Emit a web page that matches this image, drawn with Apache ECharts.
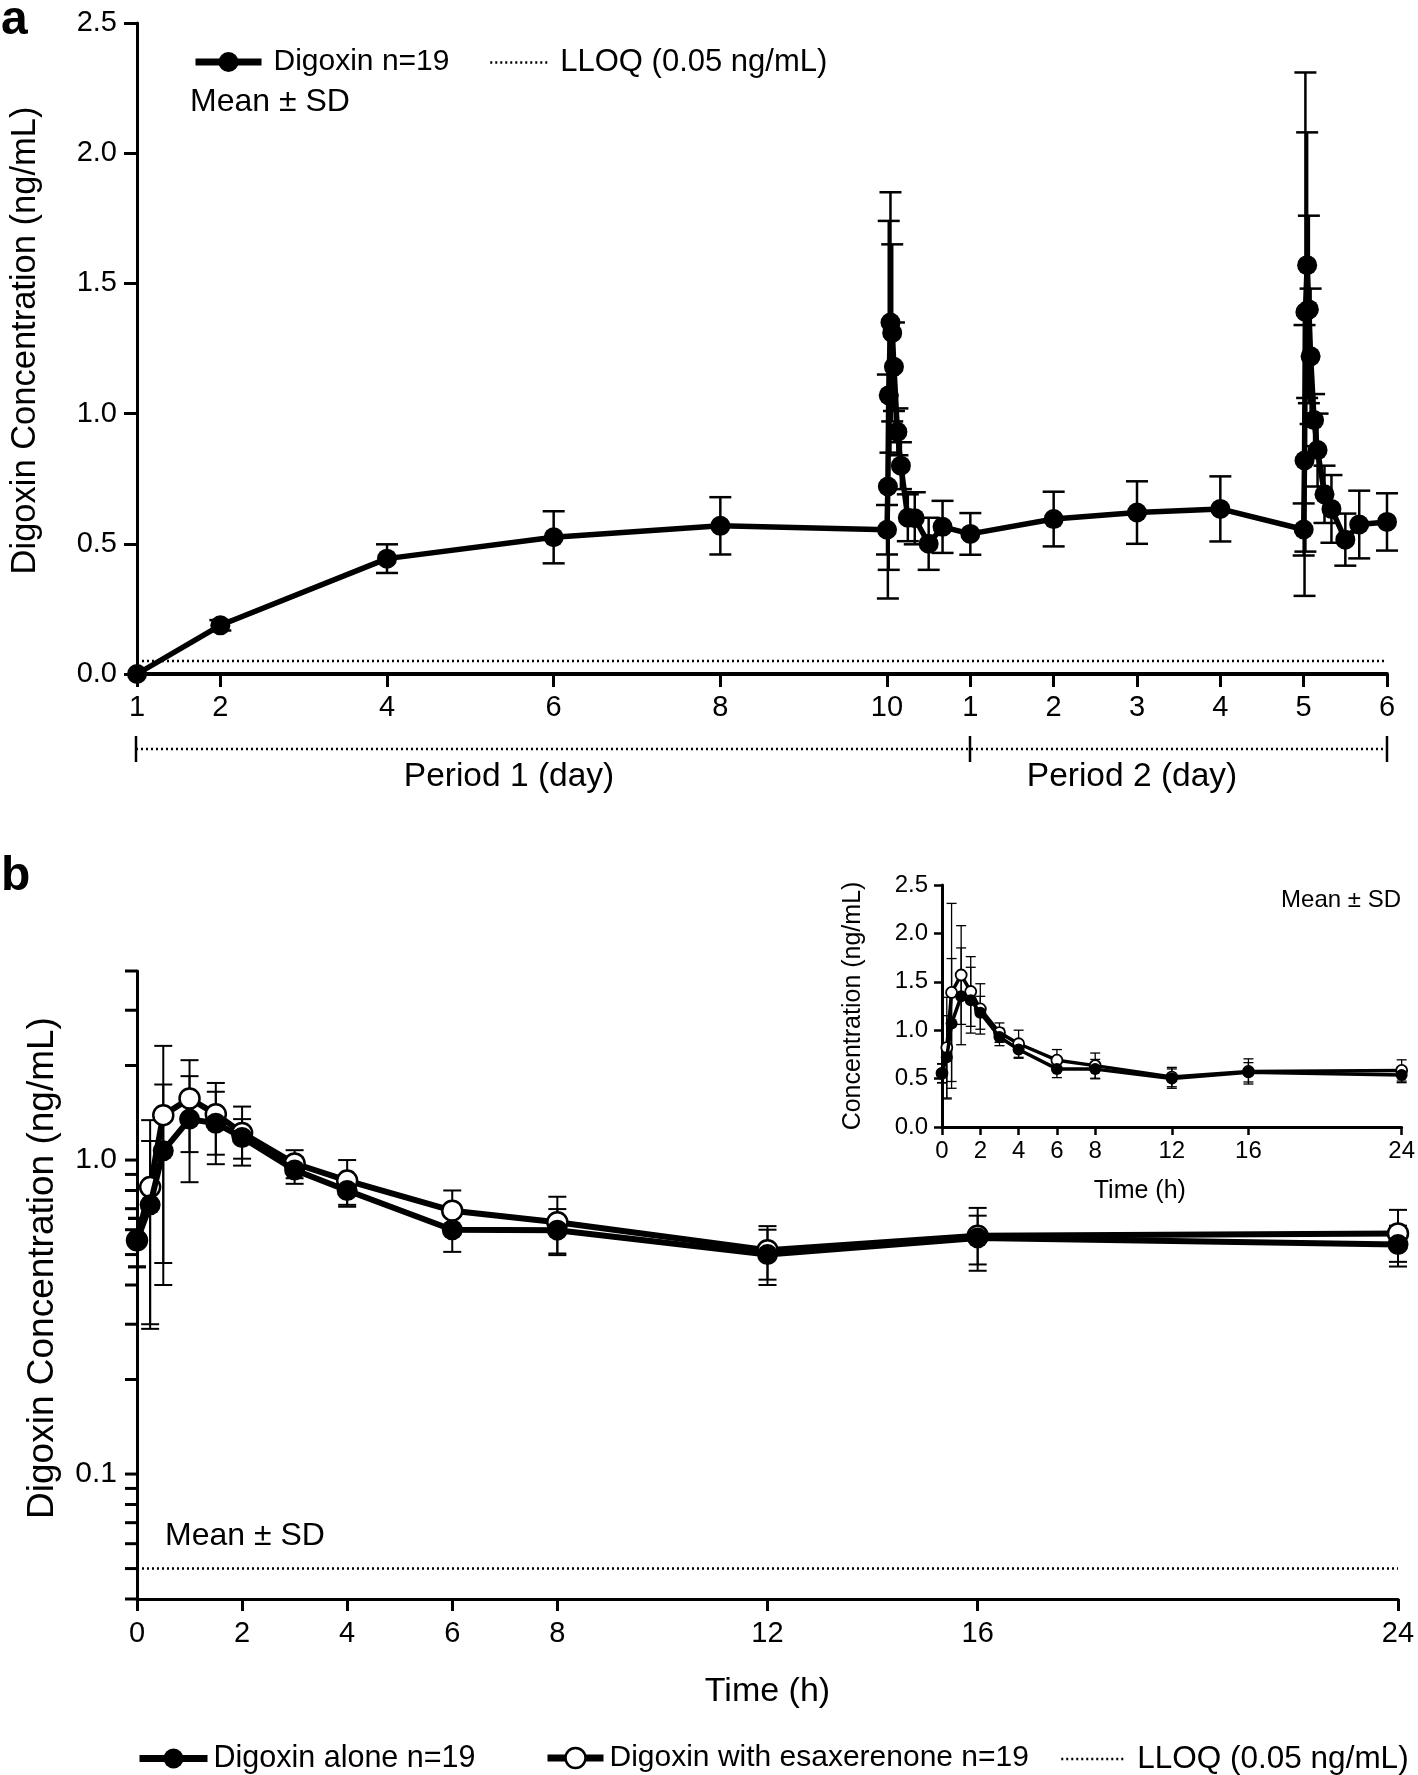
<!DOCTYPE html>
<html><head><meta charset="utf-8">
<script src="https://cdn.jsdelivr.net/npm/echarts@6/dist/echarts.min.js"></script>
<style>html,body{margin:0;padding:0;background:#fff}#chart{width:1418px;height:1775px}</style>
</head><body><div id="chart"></div>
<script>
// ---------------- DATA ----------------
// 24-h profiles (panel b and inset), hours after dose
const hours     = [0, 0.25, 0.5, 1, 1.5, 2, 3, 4, 6, 8, 12, 16, 24];
const aloneMean = [0.554, 0.72, 1.07, 1.35, 1.31, 1.18, 0.93, 0.80, 0.60, 0.598, 0.50, 0.565, 0.538];
const aloneSD   = [0.095, 0.43, 0.67, 0.50, 0.34, 0.17, 0.09, 0.09, 0.09, 0.10, 0.10, 0.10, 0.08];
const esaxMean  = [0.555, 0.82, 1.39, 1.57, 1.40, 1.22, 0.975, 0.86, 0.69, 0.634, 0.516, 0.574, 0.584];
const esaxSD    = [0.10, 0.52, 0.92, 0.51, 0.36, 0.26, 0.10, 0.14, 0.11, 0.13, 0.10, 0.13, 0.11];
// Panel a trough samples
const p1Days = [1, 2, 4, 6, 8];
const p1Mean = [0.0, 0.187, 0.443, 0.525, 0.569];
const p1SD   = [0, 0.02, 0.055, 0.10, 0.11];
const p2Days = [2, 3, 4];
const p2Mean = [0.595, 0.62, 0.634];
const p2SD   = [0.105, 0.12, 0.125];
// Axis ticks
const dayTickPos    = [0, 1, 3, 5, 7, 9, 10, 11, 12, 13, 14, 15];
const dayTickLabels = ['1', '2', '4', '6', '8', '10', '1', '2', '3', '4', '5', '6'];
const bracketPos    = [0, 10, 15];
const hourTicks     = [0, 2, 4, 6, 8, 12, 16, 24];
const logTicks      = [0.04, 0.05, 0.06, 0.07, 0.08, 0.09, 0.1, 0.2, 0.3, 0.4, 0.5, 0.6, 0.7, 0.8, 0.9, 1, 2, 3, 4];
const logLabelVals  = [0.1, 1];
const logLabelText  = ['0.1', '1.0'];
const LLOQ = 0.05;

// ---------------- BUILD ----------------
const FF = "'Liberation Sans', Arial, Helvetica, sans-serif";
const aPts = [];
p1Days.forEach((d, i) => aPts.push([d - 1, p1Mean[i], p1SD[i]]));
hours.forEach((h, i) => aPts.push([9 + h / 24, aloneMean[i], aloneSD[i]]));
p2Days.forEach((d, i) => aPts.push([9 + d, p2Mean[i], p2SD[i]]));
hours.forEach((h, i) => aPts.push([14 + h / 24, esaxMean[i], esaxSD[i]]));

function errData(xs, m, s) {
  const out = [];
  xs.forEach((x, i) => { if (s[i] > 0) out.push([x, m[i] - s[i], m[i] + s[i]]); });
  return out;
}
function errRender(capHalf, lw) {
  return function (params, api) {
    const x = api.value(0), lo = api.value(1), hi = api.value(2);
    const a = api.coord([x, hi]), b = api.coord([x, lo]);
    const st = { stroke: '#000', lineWidth: lw, fill: null };
    return { type: 'group', children: [
      { type: 'line', shape: { x1: a[0], y1: a[1], x2: b[0], y2: b[1] }, style: st },
      { type: 'line', shape: { x1: a[0] - capHalf, y1: a[1], x2: a[0] + capHalf, y2: a[1] }, style: st },
      { type: 'line', shape: { x1: b[0] - capHalf, y1: b[1], x2: b[0] + capHalf, y2: b[1] }, style: st }
    ]};
  };
}
function errSeries(xi, yi, data, capHalf, lw) {
  return { type: 'custom', xAxisIndex: xi, yAxisIndex: yi, data: data, renderItem: errRender(capHalf, lw),
    encode: { x: 0, y: [1, 2] }, silent: true, clip: false, z: 1 };
}
const blk = '#000';
const tickStyle = (w) => ({ color: blk, width: w });
const legTxt = (fs, pad) => ({ fontSize: fs, color: blk, fontFamily: FF, padding: [0, 0, 0, pad] });

const option = {
  animation: false,
  backgroundColor: '#fff',
  textStyle: { fontFamily: FF, color: blk },
  grid: [
    { left: 136, top: 23, width: 1251, height: 651 },
    { left: 136, top: 736, width: 1251, height: 26 },
    { left: 137, top: 971, width: 1261, height: 628 },
    { left: 942, top: 885, width: 460, height: 242 }
  ],
  xAxis: [
    { gridIndex: 0, type: 'value', min: 0, max: 15,
      axisLine: { show: true, onZero: false, lineStyle: tickStyle(4) },
      axisTick: { show: true, customValues: dayTickPos, length: 13, lineStyle: tickStyle(3) },
      axisLabel: { customValues: dayTickPos, fontSize: 29, color: blk, margin: 19, fontFamily: FF,
        formatter: v => dayTickLabels[dayTickPos.indexOf(Math.round(v))] },
      splitLine: { show: false } },
    { gridIndex: 1, type: 'value', min: 0, max: 15, show: false },
    { gridIndex: 2, type: 'value', min: 0, max: 24,
      axisLine: { show: true, onZero: false, lineStyle: tickStyle(3) },
      axisTick: { show: true, customValues: hourTicks, length: 12, lineStyle: tickStyle(3) },
      axisLabel: { customValues: hourTicks, fontSize: 29, color: blk, margin: 20, fontFamily: FF },
      splitLine: { show: false },
      name: 'Time (h)', nameLocation: 'middle', nameGap: 76,
      nameTextStyle: { fontSize: 34, color: blk, fontFamily: FF } },
    { gridIndex: 3, type: 'value', min: 0, max: 24,
      axisLine: { show: true, onZero: false, lineStyle: tickStyle(3) },
      axisTick: { show: true, customValues: hourTicks, length: 8, lineStyle: tickStyle(2.5) },
      axisLabel: { customValues: hourTicks, fontSize: 24, color: blk, margin: 12, fontFamily: FF },
      splitLine: { show: false },
      name: 'Time (h)', nameLocation: 'middle', nameGap: 52,
      nameTextStyle: { fontSize: 25, color: blk, fontFamily: FF, padding: [0, 64, 0, 0] } }
  ],
  yAxis: [
    { gridIndex: 0, type: 'value', min: 0, max: 2.5, interval: 0.5,
      axisLine: { show: true, onZero: false, lineStyle: tickStyle(3) },
      axisTick: { show: true, length: 13, lineStyle: tickStyle(3) },
      axisLabel: { fontSize: 29, color: blk, margin: 20, fontFamily: FF, formatter: v => v.toFixed(1) },
      splitLine: { show: false },
      name: 'Digoxin Concentration (ng/mL)', nameLocation: 'middle', nameGap: 94,
      nameTextStyle: { fontSize: 34.5, color: blk, fontFamily: FF, padding: [0, 0, 0, 16] } },
    { gridIndex: 1, type: 'value', min: 0, max: 1, show: false },
    { gridIndex: 2, type: 'log', logBase: 10, min: 0.04, max: 4,
      axisLine: { show: true, onZero: false, lineStyle: tickStyle(3) },
      axisTick: { show: false }, axisLabel: { show: false }, splitLine: { show: false }, minorTick: { show: false },
      name: 'Digoxin Concentration (ng/mL)', nameLocation: 'middle', nameGap: 76,
      nameTextStyle: { fontSize: 37, color: blk, fontFamily: FF, padding: [0, 0, 0, 34] } },
    { gridIndex: 3, type: 'value', min: 0, max: 2.5, interval: 0.5,
      axisLine: { show: true, onZero: false, lineStyle: tickStyle(3) },
      axisTick: { show: true, length: 8, lineStyle: tickStyle(2.5) },
      axisLabel: { fontSize: 24, color: blk, margin: 14, fontFamily: FF, formatter: v => v.toFixed(1) },
      splitLine: { show: false },
      name: 'Concentration (ng/mL)', nameLocation: 'middle', nameGap: 76,
      nameTextStyle: { fontSize: 25, color: blk, fontFamily: FF } }
  ],
  legend: [
    { data: ['Digoxin n=19'], left: 192, top: 47, padding: 0, itemWidth: 66, itemHeight: 25,
      textStyle: legTxt(30, 7), lineStyle: { width: 7 } },
    { data: ['LLOQ (0.05 ng/mL)'], left: 489, top: 47, padding: 0, itemWidth: 58, itemHeight: 25,
      textStyle: legTxt(31, 7), lineStyle: { width: 2.5 }, itemStyle: { opacity: 0 } },
    { data: ['Digoxin alone n=19'], left: 136, top: 1743, padding: 0, itemWidth: 68, itemHeight: 25,
      textStyle: legTxt(30.5, 1), lineStyle: { width: 7 } },
    { data: ['Digoxin with esaxerenone n=19'], left: 544, top: 1743, padding: 0, itemWidth: 56, itemHeight: 25,
      textStyle: legTxt(30, 1), lineStyle: { width: 7 }, itemStyle: { borderWidth: 2.5 } },
    { data: ['LLOQ (0.05 ng/mL)'], left: 1060, top: 1743, padding: 0, itemWidth: 64, itemHeight: 25,
      textStyle: legTxt(31.5, 7), lineStyle: { width: 2.5 }, itemStyle: { opacity: 0 } }
  ],
  graphic: [
    { type: 'text', x: 1, y: 21, style: { text: 'a', font: 'bold 48px ' + FF, fill: blk, verticalAlign: 'middle' } },
    { type: 'text', x: 1, y: 877, style: { text: 'b', font: 'bold 48px ' + FF, fill: blk, verticalAlign: 'middle' } },
    { type: 'text', x: 190, y: 102, style: { text: 'Mean \u00b1 SD', font: '32px ' + FF, fill: blk, verticalAlign: 'middle' } },
    { type: 'text', x: 165, y: 1536, style: { text: 'Mean \u00b1 SD', font: '32px ' + FF, fill: blk, verticalAlign: 'middle' } },
    { type: 'text', x: 1401, y: 900, style: { text: 'Mean \u00b1 SD', font: '24px ' + FF, fill: blk, align: 'right', verticalAlign: 'middle' } },
    { type: 'text', x: 509, y: 777, style: { text: 'Period 1 (day)', font: '33.5px ' + FF, fill: blk, align: 'center', verticalAlign: 'middle' } },
    { type: 'text', x: 1132, y: 777, style: { text: 'Period 2 (day)', font: '33.5px ' + FF, fill: blk, align: 'center', verticalAlign: 'middle' } }
  ],
  series: [
    // ---- panel a ----
    errSeries(0, 0, aPts.filter(p => p[2] > 0).map(p => [p[0], p[1] - p[2], p[1] + p[2]]), 11, 2.5),
    { name: 'Digoxin n=19', type: 'line', xAxisIndex: 0, yAxisIndex: 0, data: aPts.map(p => [p[0], p[1]]),
      symbol: 'circle', symbolSize: 20, itemStyle: { color: blk }, lineStyle: { color: blk, width: 5.5 }, clip: false, z: 3 },
    { name: 'LLOQ (0.05 ng/mL)', type: 'line', xAxisIndex: 0, yAxisIndex: 0, data: [[0, LLOQ], [15, LLOQ]],
      symbol: 'none', lineStyle: { color: blk, width: 2.5, type: [2, 3] }, itemStyle: { color: blk }, z: 2 },
    // bracket under the day axis
    { name: 'bracket', type: 'line', xAxisIndex: 1, yAxisIndex: 1, data: [[0, 0.5], [15, 0.5]],
      symbol: 'none', lineStyle: { color: blk, width: 2.5, type: [2, 3] }, silent: true },
    { name: 'bracketBars', type: 'custom', xAxisIndex: 1, yAxisIndex: 1, data: bracketPos.map(x => [x]),
      encode: { x: 0 }, silent: true, clip: false,
      renderItem: (p, api) => { const a = api.coord([api.value(0), 0]), b = api.coord([api.value(0), 1]);
        return { type: 'line', shape: { x1: a[0], y1: a[1], x2: b[0], y2: b[1] }, style: { stroke: blk, lineWidth: 2.5 } }; } },
    // ---- panel b (log) ----
    errSeries(2, 2, errData(hours, esaxMean, esaxSD), 9, 2),
    errSeries(2, 2, errData(hours, aloneMean, aloneSD), 9, 2),
    { name: 'Digoxin with esaxerenone n=19', type: 'line', xAxisIndex: 2, yAxisIndex: 2,
      data: hours.map((h, i) => [h, esaxMean[i]]), symbol: 'circle', symbolSize: 20,
      itemStyle: { color: '#fff', borderColor: blk, borderWidth: 2.5 }, lineStyle: { color: blk, width: 6 }, clip: false, z: 3 },
    { name: 'Digoxin alone n=19', type: 'line', xAxisIndex: 2, yAxisIndex: 2,
      data: hours.map((h, i) => [h, aloneMean[i]]), symbol: 'circle', symbolSize: 21,
      itemStyle: { color: blk }, lineStyle: { color: blk, width: 6 }, clip: false, z: 4 },
    { name: 'LLOQ (0.05 ng/mL)', type: 'line', xAxisIndex: 2, yAxisIndex: 2, data: [[0, LLOQ], [24, LLOQ]],
      symbol: 'none', lineStyle: { color: blk, width: 2.5, type: [2, 3] }, itemStyle: { color: blk }, z: 2 },
    { name: 'logTicks', type: 'custom', xAxisIndex: 2, yAxisIndex: 2, data: logTicks.map(v => [0, v]),
      encode: { x: 0, y: 1 }, silent: true, clip: false,
      renderItem: (p, api) => {
        const v = api.value(1); const c = api.coord([0, v]);
        const ch = [{ type: 'line', shape: { x1: c[0] - 12, y1: c[1], x2: c[0], y2: c[1] }, style: { stroke: blk, lineWidth: 3 } }];
        const li = logLabelVals.findIndex(x => Math.abs(x - v) < 1e-9);
        if (li >= 0) ch.push({ type: 'text', x: c[0] - 20, y: c[1],
          style: { text: logLabelText[li], fill: blk, font: '30px ' + FF, align: 'right', verticalAlign: 'middle' } });
        return { type: 'group', children: ch };
      } },
    // ---- inset (linear) ----
    errSeries(3, 3, errData(hours, esaxMean, esaxSD), 5, 1.3),
    errSeries(3, 3, errData(hours, aloneMean, aloneSD), 5, 1.3),
    { name: 'Digoxin with esaxerenone n=19', type: 'line', xAxisIndex: 3, yAxisIndex: 3,
      data: hours.map((h, i) => [h, esaxMean[i]]), symbol: 'circle', symbolSize: 11,
      itemStyle: { color: '#fff', borderColor: blk, borderWidth: 1.8 }, lineStyle: { color: blk, width: 3.5 }, clip: false, z: 3 },
    { name: 'Digoxin alone n=19', type: 'line', xAxisIndex: 3, yAxisIndex: 3,
      data: hours.map((h, i) => [h, aloneMean[i]]), symbol: 'circle', symbolSize: 12,
      itemStyle: { color: blk }, lineStyle: { color: blk, width: 3.5 }, clip: false, z: 4 }
  ]
};
const chart = echarts.init(document.getElementById('chart'), null, { renderer: 'canvas' });
chart.setOption(option);
</script></body></html>
